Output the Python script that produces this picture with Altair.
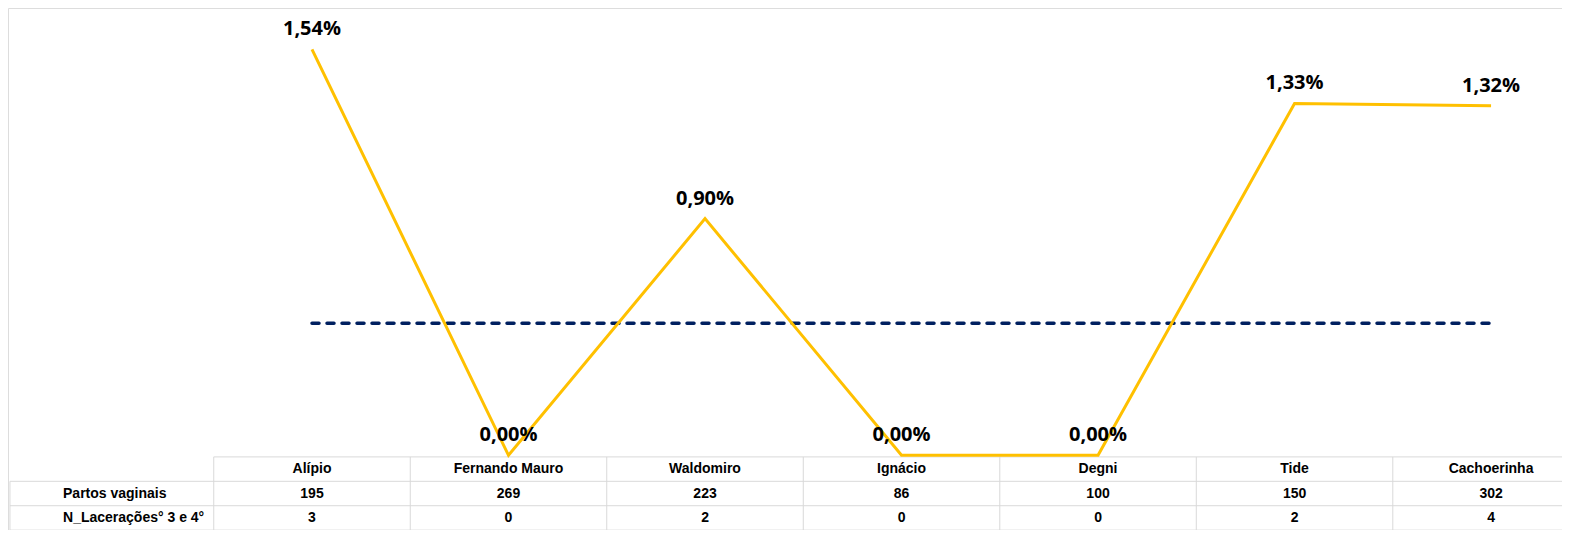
import altair as alt
import pandas as pd

# ---- data ----
categorias = ["Alípio", "Fernando Mauro", "Waldomiro", "Ignácio", "Degni", "Tide", "Cachoerinha"]
partos_vaginais = [195, 269, 223, 86, 100, 150, 302]
laceracoes = [3, 0, 2, 0, 0, 2, 4]
meta = 0.50  # dashed reference line (%)
row_labels = ["Partos vaginais", "N_Lacerações° 3 e 4°"]

pct = [l / p * 100 for l, p in zip(laceracoes, partos_vaginais)]

# ---- layout constants (in scale units) ----
W, H = 1554, 522
X_DOM = [-1.547, 6.361]
Y_DOM = [-0.283, 1.695]
TAB_TOP = -0.006
ROW_H = 0.0925
LABEL_LEFT = -1.537
LABEL_TEXT_X = -1.267
X_RIGHT = len(categorias) - 0.5
n = len(categorias)

FONT = "Liberation Sans, sans-serif"

line_df = pd.DataFrame({
    "i": list(range(n)),
    "cat": categorias,
    "pct": pct,
    "lab": [f"{v:.2f}".replace(".", ",") + "%" for v in pct],
})

# table grid segments
segs = []
row_lines = [TAB_TOP - ROW_H * k for k in range(1, 4)]
bottom = row_lines[-1]
for k in range(n + 1):
    segs.append(dict(x=k - 0.5, x2=k - 0.5, y=TAB_TOP, y2=bottom))
segs.append(dict(x=LABEL_LEFT, x2=LABEL_LEFT, y=row_lines[0], y2=bottom))
segs.append(dict(x=-0.5, x2=X_RIGHT, y=TAB_TOP, y2=TAB_TOP))
for yl in row_lines:
    segs.append(dict(x=LABEL_LEFT, x2=X_RIGHT, y=yl, y2=yl))
grid_df = pd.DataFrame(segs)

# table cells
cells = []
for i, c in enumerate(categorias):
    cells.append(dict(x=i, y=TAB_TOP - ROW_H * 0.5, t=c))
    cells.append(dict(x=i, y=TAB_TOP - ROW_H * 1.5, t=str(partos_vaginais[i])))
    cells.append(dict(x=i, y=TAB_TOP - ROW_H * 2.5, t=str(laceracoes[i])))
cell_df = pd.DataFrame(cells)

rl_df = pd.DataFrame({
    "x": [LABEL_TEXT_X] * len(row_labels),
    "y": [TAB_TOP - ROW_H * (k + 1.5) for k in range(len(row_labels))],
    "t": row_labels,
})

meta_df = pd.DataFrame({"x": [0], "x2": [n - 1], "y": [meta]})

xs = alt.Scale(domain=X_DOM, nice=False, zero=False)
ys = alt.Scale(domain=Y_DOM, nice=False, zero=False)

grid = alt.Chart(grid_df).mark_rule(color="#D9D9D9", strokeWidth=1, clip=True).encode(
    x=alt.X("x:Q", scale=xs, axis=None),
    x2="x2:Q",
    y=alt.Y("y:Q", scale=ys, axis=None),
    y2="y2:Q",
)

cell_text = alt.Chart(cell_df).mark_text(
    font=FONT, fontSize=14, fontWeight="bold", color="#000000", baseline="middle", align="center"
).encode(x=alt.X("x:Q", scale=xs, axis=None), y=alt.Y("y:Q", scale=ys, axis=None), text="t:N")

row_text = alt.Chart(rl_df).mark_text(
    font=FONT, fontSize=14, fontWeight="bold", color="#000000", baseline="middle", align="left"
).encode(x=alt.X("x:Q", scale=xs, axis=None), y=alt.Y("y:Q", scale=ys, axis=None), text="t:N")

meta_rule = alt.Chart(meta_df).mark_rule(
    color="#002060", strokeWidth=3.5, strokeDash=[7, 8], strokeCap="round"
).encode(x=alt.X("x:Q", scale=xs, axis=None), x2="x2:Q", y=alt.Y("y:Q", scale=ys, axis=None))

line = alt.Chart(line_df).mark_line(color="#FFC000", strokeWidth=3).encode(
    x=alt.X("i:Q", scale=xs, axis=None), y=alt.Y("pct:Q", scale=ys, axis=None)
)

labels = alt.Chart(line_df).mark_text(
    font="Open Sans, Lato, sans-serif", fontSize=20, fontWeight="bold", color="#000000",
    baseline="alphabetic", align="center", dy=-14
).encode(x=alt.X("i:Q", scale=xs, axis=None), y=alt.Y("pct:Q", scale=ys, axis=None), text="lab:N")

chart = alt.layer(grid, cell_text, row_text, meta_rule, line, labels).properties(
    width=W, height=H, padding=0, autosize=alt.AutoSizeParams(type="none")
).configure_view(stroke=None).configure(background="#FFFFFF")

chart.save("out.html", embed_options={"renderer": "svg", "actions": False})
